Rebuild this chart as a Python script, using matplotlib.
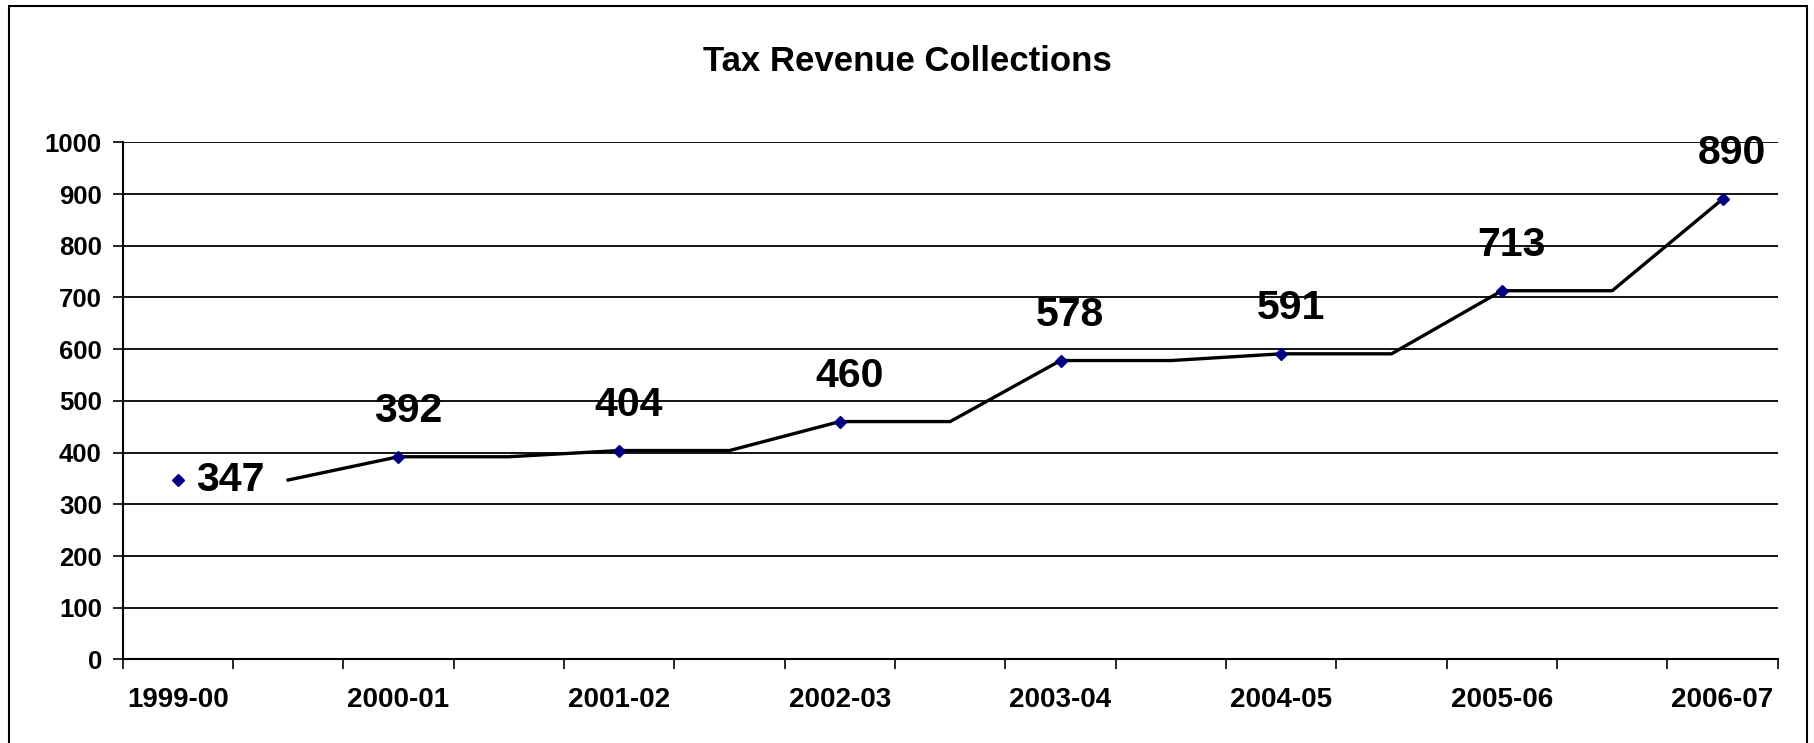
import matplotlib.pyplot as plt
from matplotlib.patches import Rectangle

plt.rcParams["font.family"] = ["Liberation Sans", "DejaVu Sans"]
plt.rcParams["font.weight"] = "bold"

# categories : one per year, with a blank slot between two years
periodes = ['1999-00', '2000-01', '2001-02', '2002-03',
            '2003-04', '2004-05', '2005-06', '2006-07']
recettes = [347, 392, 404, 460, 578, 591, 713, 890]
# series drawn as a line (starts at the 2nd slot)
ligne = [None, 347, 392, 392, 404, 404, 460, 460,
         578, 578, 591, 591, 713, 713, 890]

n_cat = len(ligne)
x_points = [2 * i for i in range(len(recettes))]
x_ligne = [i for i, v in enumerate(ligne) if v is not None]
y_ligne = [v for v in ligne if v is not None]

fig = plt.figure(figsize=(18.14, 7.43), dpi=100)
ax = fig.add_axes([0.0676, 0.1124, 0.9124, 0.6961])

# cadre autour du graphique
fig.patches.append(Rectangle((0.005, -0.02), 0.991, 1.012, transform=fig.transFigure,
                             fill=False, edgecolor='black', lw=1.5))

ax.plot(x_ligne, y_ligne, color='black', lw=2.4, zorder=3)
ax.plot(x_points, recettes, ls='none', marker='D', ms=6.5,
        color='#000080', zorder=4)

# étiquettes des valeurs
for i, (x, v) in enumerate(zip(x_points, recettes)):
    if i == 0:
        ax.annotate(str(v), (x, v), xytext=(13, 0), textcoords='offset points',
                    ha='left', va='center', fontsize=29.5, fontweight='bold')
    else:
        ax.annotate(str(v), (x, v), xytext=(7, 33), textcoords='offset points',
                    ha='center', va='center', fontsize=29.5, fontweight='bold')

ax.set_xlim(-0.5, n_cat - 0.5)
ax.set_ylim(0, 1000)
ax.set_yticks(range(0, 1001, 100))
ax.grid(axis='y', color='black', lw=1.3)
ax.set_axisbelow(True)

# graduations entre catégories, noms sous les années
ax.set_xticks([i - 0.5 for i in range(n_cat + 1)])
ax.set_xticklabels([])
ax.set_xticks(x_points, minor=True)
ax.set_xticklabels(periodes, minor=True)
ax.tick_params(axis='x', which='major', length=7, width=1.2, direction='out')
ax.tick_params(axis='x', which='minor', length=0, pad=20, labelsize=20)
ax.tick_params(axis='y', length=7, width=1.2, pad=8, labelsize=18.5)

for s in ['top', 'right']:
    ax.spines[s].set_visible(False)
ax.spines['left'].set_linewidth(1.5)
ax.spines['bottom'].set_linewidth(1.5)

fig.text(0.5, 0.917, 'Tax Revenue Collections', ha='center', va='center',
         fontsize=25, fontweight='bold')

fig.savefig('out.png', dpi=100)
